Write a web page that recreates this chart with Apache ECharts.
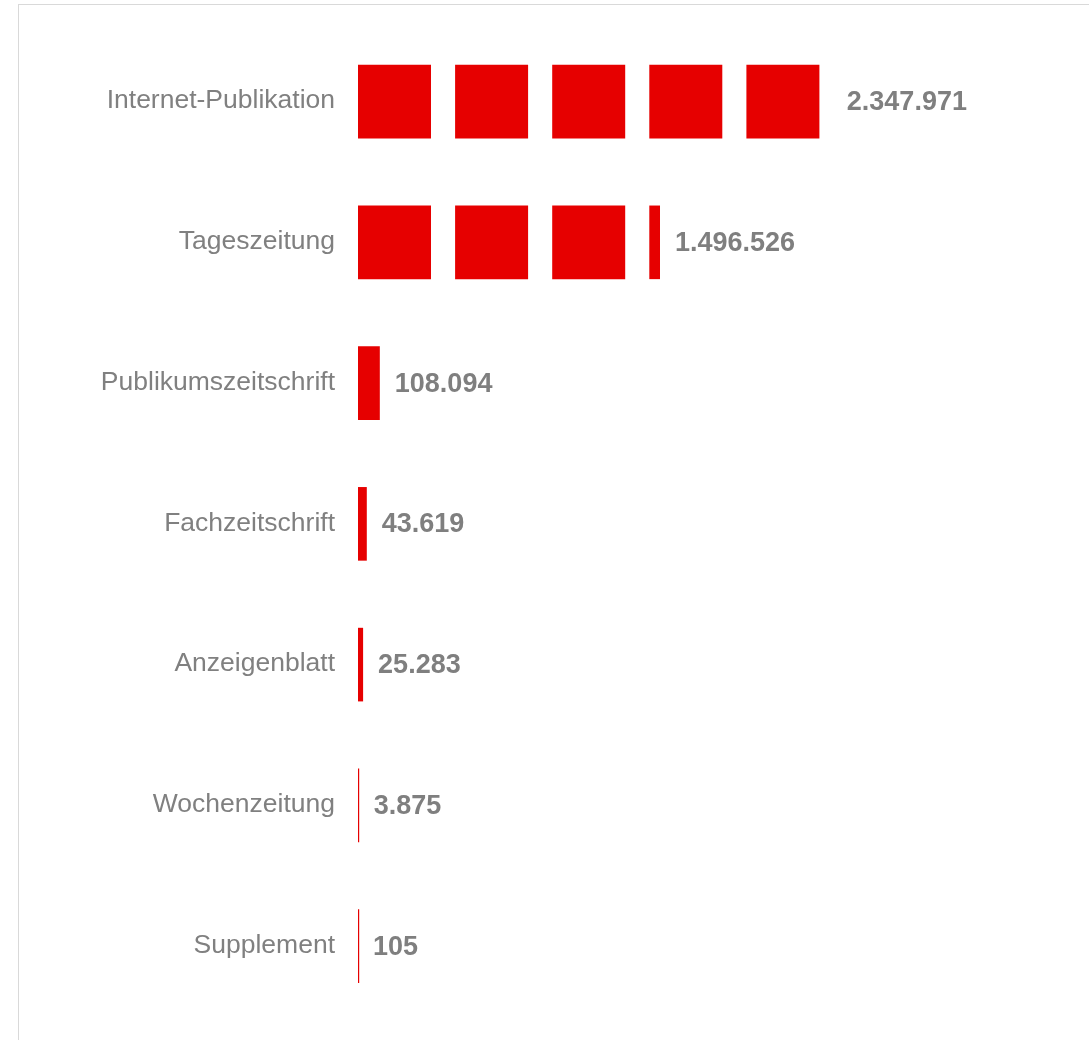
<!DOCTYPE html>
<html>
<head>
<meta charset="utf-8">
<script src="https://cdn.jsdelivr.net/npm/echarts@6/dist/echarts.min.js"></script>
<style>
  html, body { margin: 0; padding: 0; background: #fff; overflow: hidden; }
  #frame { position: absolute; left: 18px; top: 4px; width: 1200px; height: 1200px; border: 1px solid #d9d9d9; }
  #chart { position: absolute; left: 0; top: 0; width: 1089px; height: 1040px; }
</style>
</head>
<body>
<div id="frame"></div>
<div id="chart"></div>
<script>
// Kategorien (von oben nach unten)
const categories = [
  'Internet-Publikation',
  'Tageszeitung',
  'Publikumszeitschrift',
  'Fachzeitschrift',
  'Anzeigenblatt',
  'Wochenzeitung',
  'Supplement'
];
// Werte
const values = [2347971, 1496526, 108094, 43619, 25283, 3875, 105];

const barColor = '#e60000';
const textColor = '#7f7f7f';

// 2.347.971
const fmt = (v) => String(v).replace(/\B(?=(\d{3})+(?!\d))/g, '.');

const chart = echarts.init(document.getElementById('chart'));

// Balken in Stücke zerlegen (Segment + Lücke, in Pixeln)
const segWidth = 73;
const segPeriod = 97.1;

const renderItem = function (params, api) {
  const v = api.value(0);
  const cat = api.value(1);
  const start = api.coord([0, cat]);
  const end = api.coord([v, cat]);
  const h = api.size([0, 1])[1] * 0.523;
  const children = [];
  for (let x = start[0]; x < end[0]; x += segPeriod) {
    const w = Math.max(Math.min(segWidth, end[0] - x), 1.2);
    children.push({
      type: 'rect',
      shape: { x: x, y: start[1] - h / 2 + 0.5, width: w, height: h },
      style: { fill: barColor }
    });
  }
  children.push({
    type: 'text',
    x: end[0] + 15,
    y: start[1] + 1.5,
    style: {
      text: fmt(v),
      fill: textColor,
      fontSize: 27,
      fontWeight: 'bold',
      fontFamily: '"Liberation Sans", Arial, sans-serif',
      align: 'left',
      verticalAlign: 'middle'
    }
  });
  return { type: 'group', children: children };
};

chart.setOption({
  animation: false,
  grid: { left: 358, right: 125.6, top: 30.7, bottom: 24 },
  xAxis: {
    type: 'value',
    min: 0,
    max: 3000000,
    show: false
  },
  yAxis: {
    type: 'category',
    data: categories,
    inverse: true,
    axisLine: { show: false },
    axisTick: { show: false },
    splitLine: { show: false },
    axisLabel: {
      margin: 23,
      padding: [3, 0, 0, 0],
      color: '#808080',
      fontSize: 26.5,
      fontFamily: '"Liberation Sans", Arial, sans-serif'
    }
  },
  series: [
    {
      type: 'custom',
      renderItem: renderItem,
      encode: { x: 0, y: 1 },
      data: values.map((v, i) => [v, i])
    }
  ]
});
</script>
</body>
</html>
